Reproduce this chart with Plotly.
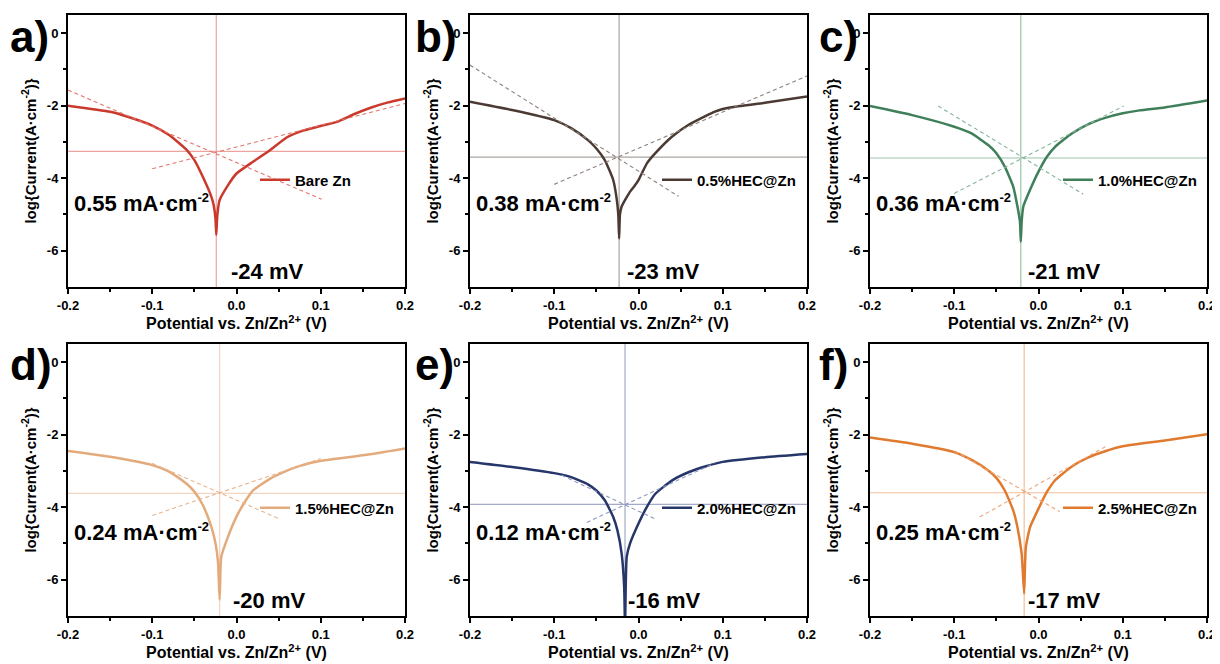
import math
import plotly.graph_objects as go

# ---------------- data ----------------
panel_letters = ["a)", "b)", "c)", "d)", "e)", "f)"]
sample_names = ["Bare Zn", "0.5%HEC@Zn", "1.0%HEC@Zn", "1.5%HEC@Zn", "2.0%HEC@Zn", "2.5%HEC@Zn"]
icorr_mA = [0.55, 0.38, 0.36, 0.24, 0.12, 0.25]          # mA cm-2
ecorr_mV = [-24, -23, -21, -20, -16, -17]                 # mV

x_ticks = [-0.2, -0.1, 0.0, 0.1, 0.2]
x_ticklabels = ["-0.2", "-0.1", "0.0", "0.1", "0.2"]
x_minor = [-0.15, -0.05, 0.05, 0.15]
y_ticks = [0, -2, -4, -6]
y_ticklabels = ["0", "-2", "-4", "-6"]
y_minor = [-1, -3, -5]

pot_a = [-0.2, -0.15, -0.13, -0.1, -0.08, -0.06, -0.05, -0.04, -0.03, -0.027, -0.025, -0.024, -0.023,
         -0.021, -0.02, -0.01, 0.0, 0.02, 0.04, 0.06, 0.08, 0.1, 0.12, 0.14, 0.16, 0.18, 0.2]
log_a = [-2.0, -2.17, -2.3, -2.55, -2.81, -3.2, -3.5, -3.96, -4.5, -4.75, -5.1, -5.56, -5.1,
         -4.7, -4.6, -4.19, -3.87, -3.54, -3.22, -2.87, -2.68, -2.56, -2.44, -2.23, -2.05, -1.91, -1.8]

pot_b = [-0.2, -0.15, -0.1, -0.08, -0.06, -0.05, -0.04, -0.03, -0.026, -0.024, -0.023, -0.022,
         -0.02, -0.01, -0.005, 0.0, 0.01, 0.02, 0.04, 0.06, 0.08, 0.09, 0.1, 0.12, 0.15, 0.2]
log_b = [-1.89, -2.12, -2.40, -2.62, -2.95, -3.18, -3.5, -4.05, -4.55, -5.0, -5.66, -5.0,
         -4.78, -4.37, -4.22, -4.05, -3.59, -3.31, -2.85, -2.52, -2.28, -2.17, -2.09, -2.01, -1.92, -1.75]

pot_c = [-0.2, -0.15, -0.1, -0.08, -0.06, -0.05, -0.04, -0.03, -0.025, -0.022, -0.021, -0.02,
         -0.018, -0.01, 0.0, 0.01, 0.02, 0.04, 0.06, 0.08, 0.1, 0.12, 0.15, 0.2]
log_c = [-2.01, -2.26, -2.58, -2.76, -3.08, -3.31, -3.68, -4.23, -4.78, -5.2, -5.75, -5.2,
         -4.78, -4.32, -3.82, -3.41, -3.13, -2.76, -2.50, -2.33, -2.21, -2.13, -2.05, -1.86]

pot_d = [-0.2, -0.15, -0.1, -0.08, -0.06, -0.05, -0.04, -0.03, -0.025, -0.022, -0.02, -0.019,
         -0.018, -0.01, 0.0, 0.01, 0.02, 0.04, 0.06, 0.07, 0.08, 0.09, 0.1, 0.15, 0.2]
log_d = [-2.45, -2.61, -2.84, -3.02, -3.34, -3.57, -3.94, -4.53, -4.99, -5.5, -6.55, -5.7,
         -5.36, -4.81, -4.26, -3.85, -3.53, -3.21, -2.99, -2.90, -2.83, -2.77, -2.72, -2.57, -2.38]

pot_e = [-0.2, -0.15, -0.1, -0.08, -0.06, -0.05, -0.04, -0.03, -0.025, -0.02, -0.017, -0.016,
         -0.015, -0.014, -0.01, 0.0, 0.01, 0.02, 0.04, 0.06, 0.08, 0.1, 0.15, 0.2]
log_e = [-2.75, -2.89, -3.06, -3.17, -3.37, -3.54, -3.81, -4.27, -4.64, -5.28, -6.2, -7.3,
         -6.0, -5.37, -5.0, -4.45, -3.99, -3.63, -3.26, -3.03, -2.87, -2.75, -2.62, -2.53]

pot_f = [-0.2, -0.15, -0.1, -0.08, -0.06, -0.05, -0.04, -0.03, -0.025, -0.02, -0.017, -0.016,
         -0.015, -0.01, 0.0, 0.01, 0.02, 0.04, 0.06, 0.08, 0.1, 0.15, 0.2]
log_f = [-2.08, -2.25, -2.48, -2.69, -2.98, -3.19, -3.54, -4.09, -4.55, -5.28, -6.38, -5.6,
         -5.10, -4.55, -4.04, -3.58, -3.25, -2.87, -2.62, -2.45, -2.32, -2.16, -1.99]

potentials = [pot_a, pot_b, pot_c, pot_d, pot_e, pot_f]
log_currents = [log_a, log_b, log_c, log_d, log_e, log_f]

# Tafel extrapolation lines (start/end potential, start/end log current)
cath_x = [[-0.2, 0.101], [-0.2, 0.0475], [-0.119, 0.053], [-0.1, 0.0507], [-0.091, 0.0212], [-0.0995, 0.0251]]
cath_y = [[-1.57, -4.58], [-0.88, -4.5], [-2.01, -4.44], [-2.79, -4.32], [-3.12, -4.34], [-2.45, -4.12]]
anod_x = [[-0.1, 0.2], [-0.1, 0.2], [-0.1, 0.101], [-0.1, 0.1], [-0.0614, 0.0899], [-0.0698, 0.0817]]
anod_y = [[-3.74, -1.94], [-4.17, -1.18], [-4.42, -2.01], [-4.23, -2.66], [-4.42, -2.79], [-4.27, -2.30]]

curve_colors = ["#c9392c", "#4b3a33", "#3f7f5a", "#e3ab7c", "#26366a", "#e07a2e"]
cross_colors = ["#eea49e", "#aca4a0", "#9cc4aa", "#f2d6bf", "#a3abc9", "#f3bf98"]
dash_colors = ["#e2756a", "#8e827c", "#86b499", "#eab48a", "#8d98bf", "#efa676"]

# ---------------- layout geometry ----------------
# the page body has an 8px margin, so every pixel position is shifted by OFF
OFF = 8
W, H = 1220 - OFF, 664 - OFF
col_px = [(68, 405), (470, 807), (870, 1207)]
row_px = [(15, 287), (344, 616)]
letter_px = [(8, 36), (413, 36), (817, 36), (8, 364), (413, 364), (817, 364)]
legend_px = [(255, 180), (657, 180), (1058, 180), (255, 508), (657, 508), (1058, 508)]
mv_shift = [13, 6, 5, 11, 1, 2]

FONT = "Liberation Sans, Arial, sans-serif"


def px_x(p):
    return (p - OFF) / W


def px_y(p):
    return 1 - (p - OFF) / H


fig = go.Figure()
layout_extra = {}

for i in range(6):
    r, c = divmod(i, 3)
    n = "" if i == 0 else str(i + 1)
    xa, ya = "x" + n, "y" + n
    x0p, x1p = col_px[c]
    y0p, y1p = row_px[r]
    leg = "legend" if i == 0 else "legend" + str(i + 1)

    fig.add_trace(go.Scatter(x=potentials[i], y=log_currents[i], mode="lines",
                             line=dict(color=curve_colors[i], width=2.5, shape="spline", smoothing=0.5),
                             name=sample_names[i], xaxis=xa, yaxis=ya, legend=leg))
    fig.add_trace(go.Scatter(x=cath_x[i], y=cath_y[i], mode="lines",
                             line=dict(color=dash_colors[i], width=1.1, dash="4px,3px"),
                             showlegend=False, xaxis=xa, yaxis=ya))
    fig.add_trace(go.Scatter(x=anod_x[i], y=anod_y[i], mode="lines",
                             line=dict(color=dash_colors[i], width=1.1, dash="4px,3px"),
                             showlegend=False, xaxis=xa, yaxis=ya))

    ecorr_v = ecorr_mV[i] / 1000.0
    logi = math.log10(icorr_mA[i] * 1e-3)
    fig.add_shape(type="line", xref=xa, yref=ya + " domain", x0=ecorr_v, x1=ecorr_v, y0=0, y1=1,
                  line=dict(color=cross_colors[i], width=1.2), layer="below")
    fig.add_shape(type="line", xref=xa + " domain", yref=ya, x0=0, x1=1, y0=logi, y1=logi,
                  line=dict(color=cross_colors[i], width=1.2), layer="below")

    axis_common = dict(showline=True, linewidth=2, linecolor="black", mirror=True,
                       ticks="outside", ticklen=5, tickwidth=1.5, tickcolor="black",
                       showgrid=False, zeroline=False, automargin=False,
                       tickfont=dict(family=FONT, size=13, color="black", weight="bold"))
    layout_extra["xaxis" + n] = dict(axis_common, anchor=ya, range=[-0.2, 0.2],
                                     domain=[px_x(x0p), px_x(x1p)],
                                     tickmode="array", tickvals=x_ticks, ticktext=x_ticklabels,
                                     minor=dict(tickvals=x_minor, ticks="outside", ticklen=3,
                                                tickwidth=1.5, tickcolor="black"),
                                     title=dict(text="Potential vs. Zn/Zn<sup>2+</sup> (V)", standoff=2,
                                                font=dict(family=FONT, size=16, color="black", weight="bold")))
    layout_extra["yaxis" + n] = dict(axis_common, anchor=xa, range=[-7, 0.5],
                                     domain=[px_y(y1p), px_y(y0p)],
                                     tickmode="array", tickvals=y_ticks, ticktext=y_ticklabels,
                                     minor=dict(tickvals=y_minor, ticks="outside", ticklen=3,
                                                tickwidth=1.5, tickcolor="black"),
                                     title=dict(text="log{Current(A·cm<sup>-2</sup>)}", standoff=7,
                                                font=dict(family=FONT, size=15, color="black", weight="bold")))
    lx, ly = legend_px[i]
    layout_extra[leg] = dict(x=px_x(lx), y=px_y(ly), xanchor="left", yanchor="middle",
                             bgcolor="rgba(0,0,0,0)", borderwidth=0,
                             font=dict(family=FONT, size=15, color="black", weight="bold"))

    # panel letter
    fx, fy = letter_px[i]
    fig.add_annotation(text=panel_letters[i], xref="paper", yref="paper", x=px_x(fx), y=px_y(fy),
                       xanchor="left", yanchor="middle", showarrow=False,
                       font=dict(family=FONT, size=44, color="black", weight="bold"))
    # corrosion current label
    fig.add_annotation(text=f"{icorr_mA[i]:.2f} mA·cm<sup><span style='font-size:13px'>-2</span></sup>",
                       xref=xa + " domain", yref=ya + " domain",
                       x=0.012, y=0.31, xanchor="left", yanchor="middle", showarrow=False,
                       font=dict(family=FONT, size=22, color="black", weight="bold"))
    # corrosion potential label
    fig.add_annotation(text=f"{ecorr_mV[i]} mV", xref=xa, yref=ya + " domain",
                       x=ecorr_v, y=0.058, xanchor="left", yanchor="middle", xshift=mv_shift[i],
                       showarrow=False,
                       font=dict(family=FONT, size=22, color="black", weight="bold"))

fig.update_layout(width=W, height=H, margin=dict(l=0, r=0, t=0, b=0, autoexpand=False),
                  paper_bgcolor="white", plot_bgcolor="white", **layout_extra)

fig.write_html("out.html")
